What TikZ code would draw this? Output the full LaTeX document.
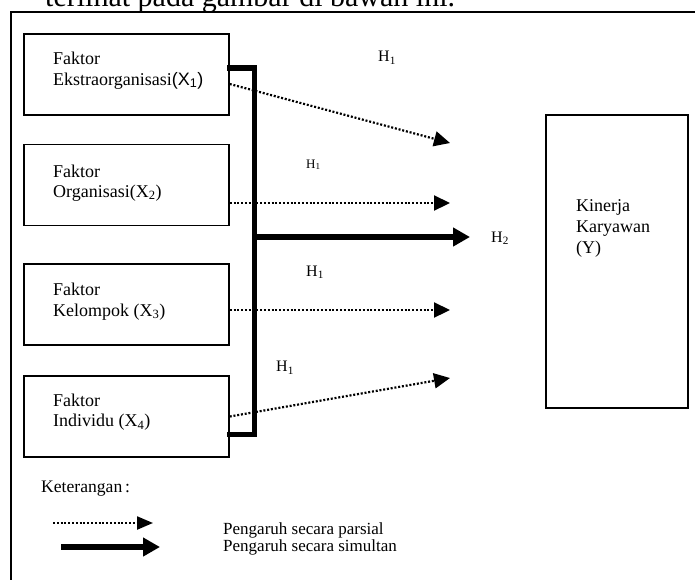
\documentclass[tikz,border=0pt]{standalone}
\usepackage{fontspec}
\setmainfont{Liberation Serif}
\setsansfont{Liberation Sans}
\usetikzlibrary{arrows.meta}

\begin{document}
\begin{tikzpicture}[x=1pt, y=-1pt,
	kotak/.style={draw, line width=1.4pt, inner sep=0pt, minimum width=205pt, minimum height=81pt},
	teks/.style={anchor=base west, align=left, inner sep=0pt, font=\fontsize{18}{20.3}\selectfont},
	hipo/.style={anchor=base west, inner sep=0pt, font=\fontsize{16}{18}\selectfont},
	parsial/.style={line width=2.2pt, dash pattern=on 2pt off 1.8pt, -{Triangle[length=16pt, width=15pt]}},
	simultan/.style={line width=6.5pt, -{Triangle[length=17pt, width=18pt]}},
	kurung/.style={line width=5.5pt, line cap=rect}]
  \useasboundingbox (0,0) rectangle (695,579);
  \node [anchor=base west, inner sep=0pt, font=\fontsize{30}{34}\selectfont] (judul) at (45,6.5) {terlihat pada gambar di bawah ini.};
  \draw [line width=1.5pt] (11,585) -- (11,12) -- (700,12);
  \node [kotak] (x1) at (126.5,74.5) {};
  \node [kotak] (x2) at (126.5,185) {};
  \node [kotak] (x3) at (126.5,304.5) {};
  \node [kotak] (x4) at (126.5,416.5) {};
  \node [kotak, minimum width=142pt, minimum height=293pt] (y) at (617,261.5) {};
  \node [teks] (t1) at (53,85) {Faktor\\Ekstraorganisasi{\sffamily(X\textsubscript{1})}};
  \node [teks] (t2) at (53,197.3) {Faktor\\Organisasi(X\textsubscript{2})};
  \node [teks] (t3) at (53,316) {Faktor\\Kelompok (X\textsubscript{3})};
  \node [teks] (t4) at (53,426.7) {Faktor\\Individu (X\textsubscript{4})};
  \node [teks, font=\fontsize{18}{21}\selectfont] (ty) at (576,253) {Kinerja\\Karyawan\\(Y)};
  \coordinate (b1) at (254.5,68);
  \coordinate (b4) at (254.5,434.5);
  \draw [kurung] (x1.east |- b1) -- (b1) -- (b4) -- (x4.east |- b4);
  \coordinate (e1) at (450,143);
  \coordinate (e2) at (450,203);
  \coordinate (e3) at (450,310);
  \coordinate (e4) at (450,378);
  \coordinate (e5) at (470,237);
  \draw [parsial] ([yshift=-9.5pt]x1.east) -- (e1);
  \draw [parsial] (x2.east |- e2) -- (e2);
  \draw [parsial] (x3.east |- e3) -- (e3);
  \draw [parsial] (x4.east) -- (e4);
  \draw [simultan] (b1 |- e5) -- (e5);
  \node [hipo] (h1) at (378,61.5) {H\textsubscript{1}};
  \node [hipo, font=\fontsize{13}{15}\selectfont] (h2) at (306,168) {H\textsubscript{1}};
  \node [hipo] (h3) at (306,276) {H\textsubscript{1}};
  \node [hipo] (h4) at (276,371.5) {H\textsubscript{1}};
  \node [hipo] (h5) at (491,242) {H\textsubscript{2}};
  \node [teks, font=\fontsize{17.6}{20}\selectfont] (ket) at (41,492) {Keterangan\,:};
  \coordinate (l1a) at (53,523);
  \coordinate (l1b) at (153,523);
  \coordinate (l2a) at (61,547);
  \coordinate (l2b) at (160,547);
  \draw [parsial, -{Triangle[length=16pt, width=13pt]}] (l1a) -- (l1b);
  \draw [simultan] (l2a) -- (l2b);
  \node [teks, font=\fontsize{17}{17}\selectfont] (p1) at (223,551) {Pengaruh secara parsial\\Pengaruh secara simultan};
\end{tikzpicture}
\end{document}
